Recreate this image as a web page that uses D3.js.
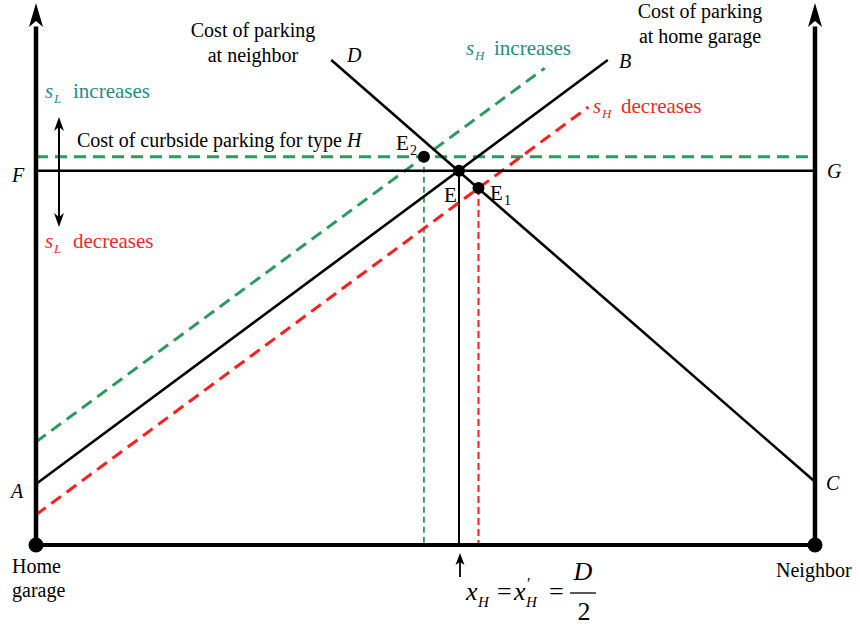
<!DOCTYPE html>
<html><head><meta charset="utf-8">
<script src="https://cdn.jsdelivr.net/npm/d3@7"></script>
<style>body{margin:0;background:#fff}svg{display:block}</style>
</head><body>
<script>
// data (units: x = position from home garage 0..100, y = cost 0..100)
const lineAB = [[0, 11.3], [73.4, 89.8]];
const lineDC = [[37.9, 89.8], [100, 11.7]];
const lineFG = [[0, 69.3], [100, 69.3]];
const greenH = [[0, 71.9], [100, 71.9]];
const greenDiag = [[0, 19.1], [65.3, 88.3]];
const redDiag = [[0, 5.6], [70.9, 81.1]];
const pointE = [54.3, 69.3];
const pointE1 = [56.8, 66.1];
const pointE2 = [49.8, 71.9];
const endpoints = [[0, 0], [100, 0]];

const W = 860, H = 626;
const FONT = "Liberation Serif";
const svg = d3.select("body").append("svg").attr("width", W).attr("height", H);
const x = d3.scaleLinear().domain([0, 100]).range([36, 815]);
const y = d3.scaleLinear().domain([0, 100]).range([545, 5]);
const line = d3.line().x(d => x(d[0])).y(d => y(d[1]));

const BLACK = "#000", GREEN = "#2b9a5e", RED = "#ff1e1e", TEAL = "#1f8e88", RTXT = "#ee2a24";

// dashed verticals
svg.append("line").attr("x1", x(pointE2[0])).attr("x2", x(pointE2[0])).attr("y1", y(pointE2[1])).attr("y2", y(0))
  .attr("stroke", GREEN).attr("stroke-width", 1.8).attr("stroke-dasharray", "6,4");
svg.append("line").attr("x1", x(pointE1[0])).attr("x2", x(pointE1[0])).attr("y1", y(pointE1[1])).attr("y2", y(0))
  .attr("stroke", RED).attr("stroke-width", 2).attr("stroke-dasharray", "7,4");
svg.append("line").attr("x1", x(pointE[0])).attr("x2", x(pointE[0])).attr("y1", y(pointE[1])).attr("y2", y(0))
  .attr("stroke", BLACK).attr("stroke-width", 2);

// dashed coloured lines
svg.append("path").attr("d", line(greenH)).attr("fill", "none").attr("stroke", GREEN).attr("stroke-width", 3).attr("stroke-dasharray", "12,7");
svg.append("path").attr("d", line(greenDiag)).attr("fill", "none").attr("stroke", GREEN).attr("stroke-width", 3).attr("stroke-dasharray", "12,7");
svg.append("path").attr("d", line(redDiag)).attr("fill", "none").attr("stroke", RED).attr("stroke-width", 3).attr("stroke-dasharray", "12,7");

// black lines
[lineFG, lineAB, lineDC].forEach(l =>
  svg.append("path").attr("d", line(l)).attr("fill", "none").attr("stroke", BLACK).attr("stroke-width", 2.6));

// axes
svg.append("line").attr("x1", x(0)).attr("x2", x(100)).attr("y1", y(0)).attr("y2", y(0)).attr("stroke", BLACK).attr("stroke-width", 4);
[0, 100].forEach(v => {
  svg.append("line").attr("x1", x(v)).attr("x2", x(v)).attr("y1", y(0)).attr("y2", y(96)).attr("stroke", BLACK).attr("stroke-width", 4.5);
  const cx = x(v), ty = y(100) - 2;
  svg.append("path").attr("d", `M${cx},${ty} L${cx - 7},${ty + 24} L${cx},${ty + 18} L${cx + 7},${ty + 24} Z`).attr("fill", BLACK);
});
svg.selectAll(".end").data(endpoints).enter().append("circle")
  .attr("cx", d => x(d[0])).attr("cy", d => y(d[1])).attr("r", 7.5).attr("fill", BLACK);

// points
[pointE, pointE1, pointE2].forEach(p =>
  svg.append("circle").attr("cx", x(p[0])).attr("cy", y(p[1])).attr("r", 6).attr("fill", BLACK));

// double arrow for s_L
(function () {
  const ax = 59, y1 = 117, y2 = 227;
  svg.append("line").attr("x1", ax).attr("x2", ax).attr("y1", y1 + 6).attr("y2", y2 - 6).attr("stroke", BLACK).attr("stroke-width", 2);
  svg.append("path").attr("d", `M${ax},${y1} L${ax - 5},${y1 + 14} L${ax},${y1 + 10} L${ax + 5},${y1 + 14} Z`).attr("fill", BLACK);
  svg.append("path").attr("d", `M${ax},${y2} L${ax - 5},${y2 - 14} L${ax},${y2 - 10} L${ax + 5},${y2 - 14} Z`).attr("fill", BLACK);
})();
// small arrow under x axis
(function () {
  const ax = x(pointE[0]) + 1, y1 = 553, y2 = 577;
  svg.append("line").attr("x1", ax).attr("x2", ax).attr("y1", y1 + 6).attr("y2", y2).attr("stroke", BLACK).attr("stroke-width", 1.8);
  svg.append("path").attr("d", `M${ax},${y1} L${ax - 4.5},${y1 + 12} L${ax},${y1 + 9} L${ax + 4.5},${y1 + 12} Z`).attr("fill", BLACK);
})();

// text helper
function txt(xp, yp, s, opts = {}) {
  const t = svg.append("text").attr("x", xp).attr("y", yp).attr("font-size", opts.size || 20)
    .attr("font-family", FONT).style("font-family", FONT)
    .attr("fill", opts.fill || BLACK).attr("text-anchor", opts.anchor || "start").text(s);
  if (opts.italic) t.attr("font-style", "italic");
  return t;
}
// s_X label: italic s, subscript, word
function sLabel(xp, yp, sub, word, fill) {
  txt(xp, yp, "s", { italic: true, fill, size: 21 });
  txt(xp + 9, yp + 5, sub, { italic: true, fill, size: 13 });
  txt(xp + 28, yp, word, { fill, size: 21 });
}

txt(253, 37, "Cost of parking", { anchor: "middle" });
txt(253, 62, "at neighbor", { anchor: "middle" });
txt(700, 18, "Cost of parking", { anchor: "middle" });
txt(700, 43, "at home garage", { anchor: "middle" });
txt(347, 62, "D", { italic: true });
txt(619, 68, "B", { italic: true });
txt(12, 182, "F", { italic: true });
txt(827, 178, "G", { italic: true });
txt(11, 498, "A", { italic: true });
txt(826, 490, "C", { italic: true });

sLabel(45, 98, "L", "increases", TEAL);
sLabel(45, 248, "L", "decreases", RTXT);
sLabel(466, 55, "H", "increases", TEAL);
sLabel(593, 113, "H", "decreases", RTXT);
const ct = txt(77, 147, "Cost of curbside parking for type ", {});
ct.append("tspan").attr("font-style", "italic").text("H");

txt(396, 150, "E", { size: 21 }); txt(410, 155, "2", { size: 14 });
txt(444, 202, "E", { size: 21 });
txt(490, 200, "E", { size: 21 }); txt(504, 205, "1", { size: 14 });

txt(12, 573, "Home");
txt(12, 597, "garage");
txt(776, 577, "Neighbor");

// formula  x_H = x'_H = D/2
const f = txt(466, 600, "", { size: 26 });
const parts = [
  { t: "x", px: 466, py: 600, it: true, s: 26 },
  { t: "H", px: 478, py: 607, it: true, s: 15 },
  { t: "=", px: 497, py: 600, it: false, s: 26 },
  { t: "x", px: 514, py: 600, it: true, s: 26 },
  { t: "′", px: 527, py: 589, it: false, s: 16 },
  { t: "H", px: 526, py: 607, it: true, s: 15 },
  { t: "=", px: 549, py: 600, it: false, s: 26 }
];
parts.forEach(p => f.append("tspan").attr("x", p.px).attr("y", p.py).attr("font-size", p.s)
  .attr("font-style", p.it ? "italic" : "normal").text(p.t));
svg.append("line").attr("x1", 570).attr("x2", 596).attr("y1", 593).attr("y2", 593).attr("stroke", BLACK).attr("stroke-width", 1.3);
txt(583, 580, "D", { italic: true, size: 26, anchor: "middle" });
txt(584, 620, "2", { size: 26, anchor: "middle" });
</script>
</body></html>
